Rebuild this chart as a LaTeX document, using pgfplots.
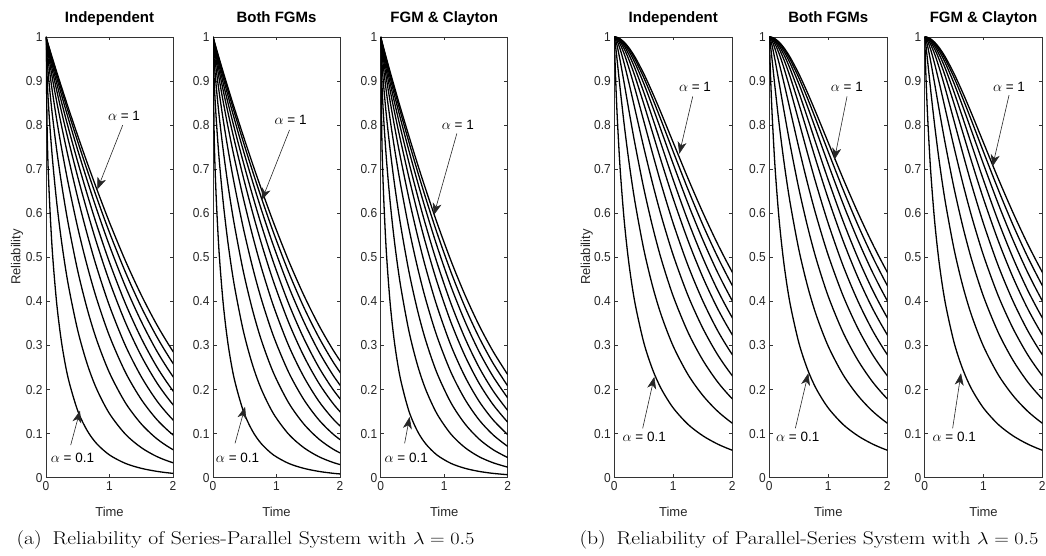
\documentclass[border=0pt]{standalone}
\usepackage{fontspec}
\usepackage{pgfplots}
\pgfplotsset{compat=1.18}
\usepackage{pgfplotstable}
\usetikzlibrary{arrows.meta}
\newfontfamily\arial{Liberation Sans}
\newfontfamily\arialc[FakeStretch=0.92]{Liberation Sans}
\newcommand\tickfont{\arialc\fontsize{13}{13}\selectfont}
\newcommand\labfont{\arial\fontsize{13}{13}\selectfont}
\newcommand\titfont{\arial\bfseries\fontsize{15}{15}\selectfont}

\pgfplotstableread{
t tf tc a1 a2 a3 a4 a5 a6 a7 a8 a9 a10 b1 b2 b3 b4 b5 b6 b7 b8 b9 b10
0 0 0 1 1 1 1 1 1 1 1 1 1 1 1 1 1 1 1 1 1 1 1
0.02 0.0190 0.0177 0.7733 0.8998 0.9456 0.9669 0.9774 0.9829 0.9863 0.9884 0.9897 0.9903 0.9149 0.9813 0.9943 0.9978 0.9990 0.9994 0.9996 0.9997 0.9998 0.9998
0.05 0.0476 0.0442 0.6458 0.8214 0.8931 0.9296 0.9491 0.9600 0.9669 0.9716 0.9744 0.9759 0.8180 0.9446 0.9788 0.9905 0.9950 0.9969 0.9978 0.9984 0.9987 0.9989
0.1 0.0952 0.0885 0.5133 0.7259 0.8233 0.8764 0.9066 0.9244 0.9361 0.9441 0.9494 0.9524 0.6989 0.8815 0.9456 0.9720 0.9836 0.9891 0.9921 0.9940 0.9950 0.9956
0.17 0.1619 0.1504 0.3935 0.6232 0.7419 0.8109 0.8522 0.8777 0.8947 0.9070 0.9152 0.9200 0.5804 0.7988 0.8932 0.9385 0.9609 0.9726 0.9794 0.9837 0.9864 0.9879
0.25 0.2381 0.2212 0.3022 0.5305 0.6621 0.7438 0.7946 0.8270 0.8492 0.8656 0.8769 0.8841 0.4836 0.7152 0.8315 0.8946 0.9286 0.9477 0.9594 0.9673 0.9723 0.9752
0.35 0.3333 0.3097 0.2252 0.4385 0.5765 0.6680 0.7276 0.7672 0.7947 0.8157 0.8304 0.8399 0.3964 0.6260 0.7575 0.8364 0.8828 0.9108 0.9287 0.9413 0.9496 0.9547
0.5 0.4762 0.4425 0.1519 0.3340 0.4691 0.5672 0.6351 0.6824 0.7164 0.7432 0.7626 0.7760 0.3065 0.5180 0.6563 0.7491 0.8090 0.8480 0.8745 0.8942 0.9077 0.9167
0.65 0.6190 0.5752 0.1066 0.2576 0.3825 0.4801 0.5518 0.6041 0.6426 0.6740 0.6974 0.7140 0.2451 0.4339 0.5690 0.6670 0.7350 0.7822 0.8154 0.8413 0.8599 0.8727
0.8 0.7619 0.7080 0.0770 0.2005 0.3118 0.4049 0.4767 0.5316 0.5732 0.6081 0.6350 0.6547 0.2006 0.3671 0.4940 0.5921 0.6637 0.7162 0.7546 0.7857 0.8089 0.8254
1.0 0.9524 0.8850 0.0516 0.1453 0.2379 0.3213 0.3897 0.4451 0.4886 0.5263 0.5563 0.5793 0.1580 0.2979 0.4112 0.5043 0.5765 0.6326 0.6752 0.7112 0.7392 0.7601
1.25 1.1905 1.1062 0.0325 0.0988 0.1701 0.2394 0.3000 0.3526 0.3954 0.4342 0.4667 0.4924 0.1209 0.2338 0.3297 0.4130 0.4812 0.5378 0.5823 0.6217 0.6539 0.6789
1.5 1.4286 1.3274 0.0213 0.0683 0.1221 0.1777 0.2293 0.2764 0.3165 0.3546 0.3873 0.4146 0.0952 0.1867 0.2668 0.3392 0.4012 0.4550 0.4991 0.5398 0.5740 0.6020
1.75 1.6667 1.5487 0.0143 0.0477 0.0878 0.1313 0.1736 0.2145 0.2505 0.2862 0.3185 0.3459 0.0764 0.1509 0.2175 0.2793 0.3341 0.3839 0.4258 0.4660 0.5013 0.5307
2.0 1.9048 1.7699 0.0098 0.0339 0.0636 0.0972 0.1312 0.1658 0.1971 0.2295 0.2596 0.2866 0.0623 0.1237 0.1789 0.2314 0.2792 0.3243 0.3630 0.4015 0.4362 0.4664
2.26 2.1524 2.0 0.0068 0.0239 0.0457 0.0709 0.0976 0.1259 0.1526 0.1810 0.2083 0.2339 0.0512 0.1015 0.1471 0.1910 0.2320 0.2720 0.3074 0.3433 0.3764 0.4066
}\data

\pgfplotsset{
  panel/.style={
    scale only axis, height=440.7pt, anchor=south west,
    xmin=0, xmax=2, ymin=0, ymax=1,
    axis line style={black!80, line width=0.7pt},
    xtick={0,1,2}, xticklabels={0,1,2},
    ytick={0,0.1,0.2,0.3,0.4,0.5,0.6,0.7,0.8,0.9,1},
    yticklabels={0,0.1,0.2,0.3,0.4,0.5,0.6,0.7,0.8,0.9,1},
    tick align=inside, major tick length=3.5pt,
    every tick/.style={black!80, line width=0.6pt},
    tick label style={font=\tickfont, text=black!85},
    /pgf/number format/assume math mode=true,
    xlabel={Time},
    xlabel style={font=\labfont, text=black!85, at={(axis description cs:0.5,0)}, anchor=base, yshift=-39pt},
    title style={font=\titfont, at={(axis description cs:0.5,1)}, anchor=base, yshift=8pt},
  },
  curve/.style={black, solid, line width=1.3pt, smooth, mark=none},
}
\tikzset{
  annot/.style={draw=black!85, line width=0.6pt, -{Stealth[length=12pt,width=9pt,inset=3.5pt]}},
  atext/.style={font=\arial\fontsize{13.5}{13.5}\selectfont, inner sep=0pt},
  caption/.style={font=\fontsize{18.5}{20}\selectfont, xscale=1.17, transform shape},
}

\begin{document}
\begin{tikzpicture}
\path[use as bounding box] (0,0) rectangle (1046pt,555pt);

% ---------- (a) Series-Parallel ----------
\begin{axis}[panel, width=127pt, at={(46pt,77.3pt)}, title={Independent}]
\pgfplotsinvokeforeach{1,...,10}{\addplot[curve] table[x=t,y=a#1]{\data};}
\draw[annot] (axis cs:1.208,0.800) -- (axis cs:0.808,0.654);
\node[atext] at (axis cs:1.228,0.822) {$\alpha$ = 1};
\draw[annot] (axis cs:0.389,0.074) -- (axis cs:0.535,0.152);
\node[atext] at (axis cs:0.417,0.046) {$\alpha$ = 0.1};
\end{axis}

\begin{axis}[panel, width=127pt, at={(213pt,77.3pt)}, title={Both FGMs}]
\pgfplotsinvokeforeach{1,...,10}{\addplot[curve] table[x=tf,y=a#1]{\data};}
\draw[annot] (axis cs:1.205,0.789) -- (axis cs:0.769,0.630);
\node[atext] at (axis cs:1.223,0.812) {$\alpha$ = 1};
\draw[annot] (axis cs:0.347,0.078) -- (axis cs:0.505,0.161);
\node[atext] at (axis cs:0.387,0.046) {$\alpha$ = 0.1};
\end{axis}

\begin{axis}[panel, width=127pt, at={(380.7pt,77.3pt)}, title={FGM \& Clayton}]
\pgfplotsinvokeforeach{1,...,10}{\addplot[curve] table[x=tc,y=a#1]{\data};}
\draw[annot] (axis cs:1.199,0.781) -- (axis cs:0.837,0.596);
\node[atext] at (axis cs:1.214,0.800) {$\alpha$ = 1};
\draw[annot] (axis cs:0.377,0.078) -- (axis cs:0.455,0.138);
\node[atext] at (axis cs:0.403,0.044) {$\alpha$ = 0.1};
\end{axis}

% ---------- (b) Parallel-Series ----------
\begin{axis}[panel, width=118pt, at={(614.3pt,77.3pt)}, title={Independent}]
\pgfplotsinvokeforeach{1,...,10}{\addplot[curve] table[x=t,y=b#1]{\data};}
\draw[annot] (axis cs:1.329,0.865) -- (axis cs:1.102,0.735);
\node[atext] at (axis cs:1.368,0.886) {$\alpha$ = 1};
\draw[annot] (axis cs:0.481,0.112) -- (axis cs:0.678,0.229);
\node[atext] at (axis cs:0.508,0.093) {$\alpha$ = 0.1};
\end{axis}

\begin{axis}[panel, width=118pt, at={(769.3pt,77.3pt)}, title={Both FGMs}]
\pgfplotsinvokeforeach{1,...,10}{\addplot[curve] table[x=t,y=b#1]{\data};}
\draw[annot] (axis cs:1.317,0.865) -- (axis cs:1.102,0.721);
\node[atext] at (axis cs:1.314,0.886) {$\alpha$ = 1};
\draw[annot] (axis cs:0.441,0.112) -- (axis cs:0.661,0.237);
\node[atext] at (axis cs:0.481,0.093) {$\alpha$ = 0.1};
\end{axis}

\begin{axis}[panel, width=117.6pt, at={(924.7pt,77.3pt)}, title={FGM \& Clayton}]
\pgfplotsinvokeforeach{1,...,10}{\addplot[curve] table[x=t,y=b#1]{\data};}
\draw[annot] (axis cs:1.434,0.868) -- (axis cs:1.153,0.706);
\node[atext] at (axis cs:1.434,0.886) {$\alpha$ = 1};
\draw[annot] (axis cs:0.475,0.112) -- (axis cs:0.617,0.237);
\node[atext] at (axis cs:0.502,0.093) {$\alpha$ = 0.1};
\end{axis}

% ---------- labels and captions ----------
\node[rotate=90, font=\labfont, text=black!85] at (17pt,298pt) {Reliability};
\node[rotate=90, font=\labfont, text=black!85] at (586.7pt,298pt) {Reliability};
\node[caption] at (245.5pt,15pt) {(a)\enspace Reliability of Series-Parallel System with $\lambda = 0.5$};
\node[caption] at (809pt,15pt) {(b)\enspace Reliability of Parallel-Series System with $\lambda = 0.5$};
\end{tikzpicture}
\end{document}
